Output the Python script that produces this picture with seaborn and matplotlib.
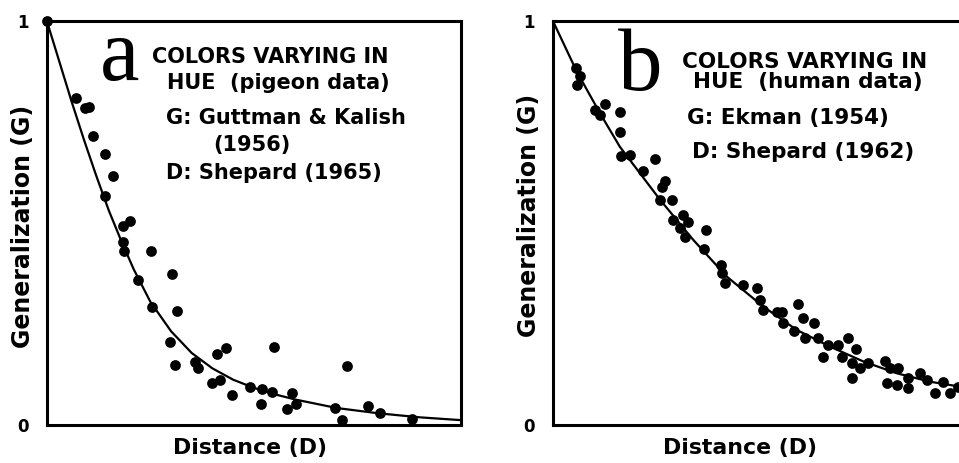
import matplotlib
matplotlib.use("Agg")
import matplotlib.pyplot as plt
import seaborn as sns
import pandas as pd

# ---------------- data ----------------
# Panel a: pigeon data (Guttman & Kalish 1956)
a_dist = [0.000, 0.071, 0.093, 0.103, 0.111, 0.141, 0.161, 0.141, 0.183, 0.201,
          0.183, 0.187, 0.251, 0.221, 0.302, 0.253, 0.314, 0.298, 0.310, 0.358,
          0.364, 0.410, 0.433, 0.548, 0.398, 0.418, 0.447, 0.491, 0.519, 0.545,
          0.517, 0.591, 0.579, 0.601, 0.724, 0.696, 0.712, 0.775, 0.805, 0.881]
a_gen = [1.000, 0.809, 0.783, 0.786, 0.715, 0.670, 0.615, 0.565, 0.491, 0.505,
         0.452, 0.431, 0.431, 0.359, 0.374, 0.292, 0.283, 0.205, 0.148, 0.156,
         0.140, 0.175, 0.190, 0.193, 0.103, 0.111, 0.074, 0.094, 0.088, 0.082,
         0.053, 0.078, 0.039, 0.053, 0.146, 0.041, 0.012, 0.047, 0.029, 0.016]
a_curve_dist = [0.0, 0.03, 0.06, 0.09, 0.12, 0.15, 0.18, 0.21, 0.25, 0.30,
                0.35, 0.40, 0.45, 0.50, 0.55, 0.60, 0.70, 0.80, 0.90, 1.0]
a_curve_gen = [1.0, 0.90, 0.80, 0.705, 0.615, 0.53, 0.455, 0.385, 0.305, 0.232,
               0.178, 0.140, 0.112, 0.092, 0.076, 0.063, 0.042, 0.029, 0.019,
               0.012]

# Panel b: human data (Ekman 1954)
b_dist = [0.057, 0.065, 0.059, 0.101, 0.113, 0.126, 0.162, 0.162, 0.166, 0.186,
          0.218, 0.248, 0.263, 0.271, 0.259, 0.287, 0.315, 0.291, 0.327, 0.307,
          0.319, 0.370, 0.364, 0.406, 0.408, 0.416, 0.460, 0.492, 0.500, 0.508,
          0.541, 0.553, 0.557, 0.593, 0.603, 0.631, 0.582, 0.609, 0.641, 0.665,
          0.689, 0.712, 0.698, 0.732, 0.652, 0.722, 0.742, 0.762, 0.722, 0.802,
          0.814, 0.834, 0.806, 0.830, 0.858, 0.887, 0.858, 0.903, 0.923, 0.943,
          0.959, 0.979]
b_gen = [0.882, 0.862, 0.841, 0.779, 0.767, 0.793, 0.775, 0.725, 0.664, 0.668,
         0.627, 0.658, 0.589, 0.602, 0.557, 0.557, 0.519, 0.507, 0.503, 0.487,
         0.466, 0.481, 0.435, 0.396, 0.375, 0.350, 0.346, 0.338, 0.309, 0.284,
         0.280, 0.280, 0.252, 0.299, 0.265, 0.252, 0.233, 0.214, 0.214, 0.198,
         0.198, 0.214, 0.169, 0.187, 0.167, 0.153, 0.140, 0.153, 0.116, 0.157,
         0.140, 0.140, 0.103, 0.099, 0.116, 0.128, 0.091, 0.111, 0.078, 0.107,
         0.078, 0.095]
b_curve_dist = [0.0, 0.058, 0.114, 0.162, 0.259, 0.339, 0.420, 0.508, 0.589,
                0.669, 0.750, 0.830, 0.911, 1.0]
b_curve_gen = [1.0, 0.874, 0.771, 0.688, 0.557, 0.458, 0.367, 0.293, 0.235,
               0.194, 0.157, 0.128, 0.107, 0.092]

tick_vals = [0, 1]
tick_labels = ["0", "1"]
x_label = "Distance (D)"
y_label = "Generalization (G)"
a_lines = ["COLORS VARYING IN", "HUE  (pigeon data)", "G: Guttman & Kalish",
           "(1956)", "D: Shepard (1965)"]
b_lines = ["COLORS VARYING IN", "HUE  (human data)", "G: Ekman (1954)",
           "D: Shepard (1962)"]

# ---------------- drawing ----------------
sns.set_style("white")
plt.rcParams["font.family"] = ["DejaVu Sans"]
plt.rcParams["text.color"] = "black"
plt.rcParams["axes.labelcolor"] = "black"
plt.rcParams["ytick.color"] = "black"
plt.rcParams["xtick.color"] = "black"

W, H = 959, 463
fig = plt.figure(figsize=(W / 100, H / 100), dpi=100)
fig.patch.set_facecolor("white")

ax_w = 414.3 / W
ax_h = 404.5 / H
ax_b = 38.0 / H
ax_a = fig.add_axes([46.7 / W, ax_b, ax_w, ax_h])
ax_bb = fig.add_axes([552.7 / W, ax_b, ax_w, ax_h])


def draw_panel(ax, xs, ys, cx, cy, letter, letter_pos, lines, line_pos,
               xlab_x, ylab_y, txt_size):
    sc = pd.DataFrame({"D": xs, "G": ys})
    cv = pd.DataFrame({"D": cx, "G": cy})
    sns.lineplot(data=cv, x="D", y="G", ax=ax, color="black", lw=1.6,
                 estimator=None, sort=True, zorder=2)
    sns.scatterplot(data=sc, x="D", y="G", ax=ax, color="black", s=60,
                    edgecolor="black", linewidth=0, zorder=3, clip_on=False)
    ax.set_xlim(0, 1)
    ax.set_ylim(0, 1)
    ax.set_xticks([])
    ax.set_yticks(tick_vals)
    ax.set_yticklabels(tick_labels, fontsize=12, fontweight="bold",
                       color="black")
    ax.tick_params(axis="y", length=0, pad=13)
    for sp in ax.spines.values():
        sp.set_visible(True)
        sp.set_color("black")
        sp.set_linewidth(2.2)
    ax.set_xlabel(x_label, fontsize=15.8, fontweight="bold", va="center",
                  color="black")
    ax.xaxis.set_label_coords(xlab_x, -0.057)
    ax.set_ylabel(y_label, fontsize=17, fontweight="bold", va="center",
                  color="black")
    ax.yaxis.set_label_coords(-0.057, ylab_y)
    ax.text(letter_pos[0], letter_pos[1], letter, transform=ax.transAxes,
            fontsize=64, family="Liberation Serif", ha="center",
            va="baseline", color="black")
    for txt, (tx, ty) in zip(lines, line_pos):
        ax.text(tx, ty, txt, transform=ax.transAxes, fontsize=txt_size,
                fontweight="bold", ha="left", va="center", color="black")


draw_panel(ax_a, a_dist, a_gen, a_curve_dist, a_curve_gen, "a",
           (0.175, 0.853), a_lines,
           [(0.254, 0.910), (0.290, 0.845), (0.288, 0.759), (0.401, 0.692),
            (0.288, 0.623)],
           0.491, 0.492, 15)
draw_panel(ax_bb, b_dist, b_gen, b_curve_dist, b_curve_gen, "b",
           (0.211, 0.828), b_lines,
           [(0.312, 0.897), (0.339, 0.848), (0.324, 0.759), (0.336, 0.675)],
           0.452, 0.519, 15.5)

fig.savefig("out.png", dpi=100, facecolor="white")
